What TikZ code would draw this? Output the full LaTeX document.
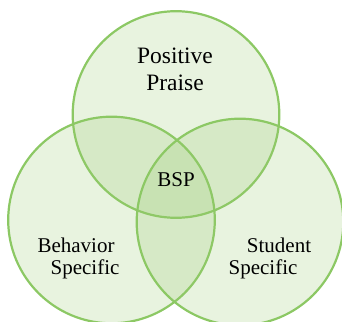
\documentclass[tikz,border=0pt]{standalone}
\usepackage{fontspec}
\setmainfont{Liberation Serif}
\definecolor{ringgreen}{RGB}{140,200,100}
\definecolor{fillgreen}{RGB}{150,200,110}
\begin{document}
\begin{tikzpicture}[x=1pt,y=-1pt,
  ring/.style={draw=ringgreen,line width=2.2pt,fill=fillgreen,fill opacity=0.22,draw opacity=1},
  lbl/.style={font=\fontsize{21}{24}\selectfont,text=black,inner sep=0pt}]
\useasboundingbox (0,0) rectangle (342,321);
\path[ring] (176,114.5) circle (103.3);
\path[ring] (111.5,220) circle (103.3);
\path[ring] (240,222) circle (103.3);
\node[lbl,font=\fontsize{23.5}{26}\selectfont] (pp1) at (175,56) {Positive};
\node[lbl,font=\fontsize{23.5}{26}\selectfont] (pp2) at (175,83) {Praise};
\node[lbl] (bsp) at (176,180) {BSP};
\node[lbl] (bs1) at (76,245) {Behavior};
\node[lbl] (bs2) at (85,269) {Specific};
\node[lbl] (ss1) at (279,245) {Student};
\node[lbl] (ss2) at (263,269) {Specific};
\end{tikzpicture}
\end{document}
